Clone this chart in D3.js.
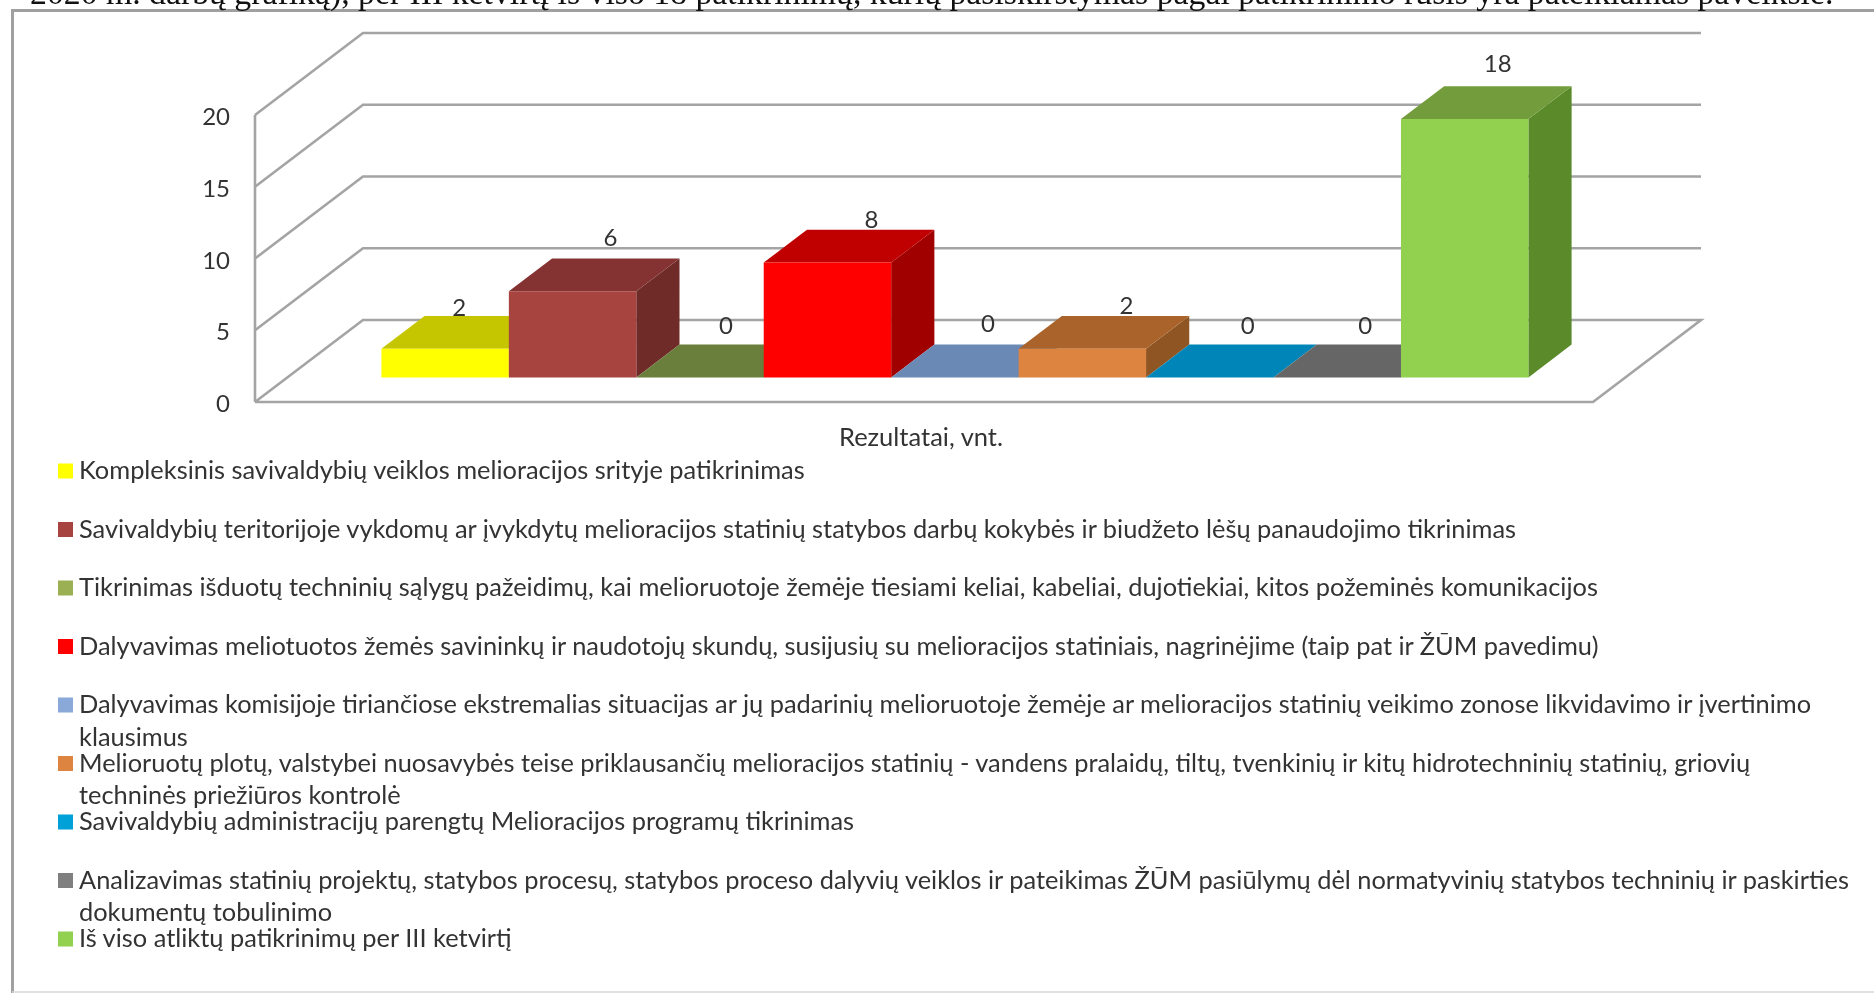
<!DOCTYPE html>
<html>
<head>
<meta charset="utf-8">
<script src="https://cdn.jsdelivr.net/npm/d3@7"></script>
<style>
  html, body { margin: 0; padding: 0; background: #fff; overflow: hidden; }
  svg { display: block; filter: blur(0.5px); }
  text { font-family: Lato, "Open Sans", sans-serif; fill: #333; }
  .heading { font-family: "Liberation Serif", serif; fill: #111; }
  .grid { stroke: #a4a4a4; stroke-width: 2.6; fill: none; }
</style>
</head>
<body>
<div class="canvas"></div>
<script>
const categories = [
  "Kompleksinis savivaldybių veiklos melioracijos srityje patikrinimas",
  "Savivaldybių teritorijoje vykdomų ar įvykdytų melioracijos statinių statybos darbų kokybės ir biudžeto lėšų panaudojimo tikrinimas",
  "Tikrinimas išduotų techninių sąlygų pažeidimų, kai melioruotoje žemėje tiesiami keliai, kabeliai, dujotiekiai, kitos požeminės komunikacijos",
  "Dalyvavimas meliotuotos žemės savininkų ir naudotojų skundų, susijusių su melioracijos statiniais, nagrinėjime (taip pat ir ŽŪM pavedimu)",
  "Dalyvavimas komisijoje tiriančiose ekstremalias situacijas ar jų padarinių melioruotoje žemėje ar melioracijos statinių veikimo zonose likvidavimo ir įvertinimo|klausimus",
  "Melioruotų plotų, valstybei nuosavybės teise priklausančių melioracijos statinių - vandens pralaidų, tiltų, tvenkinių ir kitų hidrotechninių statinių, griovių|techninės priežiūros kontrolė",
  "Savivaldybių administracijų parengtų Melioracijos programų tikrinimas",
  "Analizavimas statinių projektų, statybos procesų, statybos proceso dalyvių veiklos ir pateikimas ŽŪM pasiūlymų dėl normatyvinių statybos techninių ir paskirties|dokumentų tobulinimo",
  "Iš viso atliktų patikrinimų per III ketvirtį"
];
const values = [2, 6, 0, 8, 0, 2, 0, 0, 18];
const yTicks = [0, 5, 10, 15, 20];
const frontColors = ["#ffff00", "#a8443f", "#9bb053", "#ff0000", "#8aa9d9", "#dd8540", "#00a0d8", "#7f7f7f", "#92d050"];
const topColors = ["#c6c600", "#843232", "#6b7f3c", "#c00000", "#6a8ab5", "#aa642b", "#0085b8", "#666666", "#739c3c"];
const sideColors = ["#8f8f00", "#6e2b28", "#55682f", "#a00000", "#55719a", "#8f5624", "#006f9a", "#555555", "#5b8a2b"];
const axisTitle = "Rezultatai, vnt.";
const headingText = "2020 m. darbų grafiką), per III ketvirtį iš viso 18 patikrinimų, kurių pasiskirstymas pagal patikrinimo rūšis yra pateikiamas paveiksle.";

// hand placed labels in the original, offset from the back top edge of the bar
const labelNudge = [[14, -8], [38, -21], [26, -19], [44, -10], [33, -21], [44, -10], [38, -19], [28, -19], [33, -22]];

const width = 1874;
const height = 993;
const wall = { left: 255, right: 1593, bottom: 402, top: 115 };
const depthVec = { x: 108, y: -82 };
const barDepth = [0.3, 0.7];

const svg = d3
  .select(".canvas")
  .append("svg")
  .attr("width", width)
  .attr("height", height);

const x = d3.scaleBand().domain(d3.range(values.length)).range([349, 1496]);
const y = d3.scaleLinear().domain([0, 20]).range([wall.bottom, wall.top]);

// oblique projection, d goes 0 (front) to 1 (back wall)
const pt = (px, py, d) => [px + depthVec.x * d, py + depthVec.y * d];
const poly = (pts) => pts.map((p) => p.join(",")).join(" ");

// outer frame of the pasted picture
svg.append("path")
  .attr("d", `M12.5,${height}V10.5H${width}`)
  .attr("fill", "none")
  .attr("stroke", "#a0a0a0")
  .attr("stroke-width", 3);
svg.append("line")
  .attr("x1", 12)
  .attr("x2", width)
  .attr("y1", 992)
  .attr("y2", 992)
  .attr("stroke", "#d8d8d8")
  .attr("stroke-width", 1.5);

svg.append("text")
  .attr("class", "heading")
  .attr("x", 30)
  .attr("y", 4)
  .attr("font-size", 33.75)
  .text(headingText);

// walls and floor
const grid = svg.append("g");
grid.selectAll(".wall-line")
  .data(yTicks)
  .enter()
  .append("polyline")
  .attr("class", "grid")
  .attr("points", (d) =>
    poly([[wall.left, y(d)], pt(wall.left, y(d), 1), pt(wall.right, y(d), 1), ...(d === 0 ? [[wall.right, y(d)], [wall.left, y(d)]] : [])])
  );
grid.append("line")
  .attr("class", "grid")
  .attr("x1", wall.left)
  .attr("x2", wall.left)
  .attr("y1", y(0))
  .attr("y2", y(20))
  .attr("stroke-width", 1.5);

svg.selectAll(".tick-label")
  .data(yTicks)
  .enter()
  .append("text")
  .attr("class", "tick-label")
  .attr("x", 230)
  .attr("y", (d) => y(d) + 10)
  .attr("text-anchor", "end")
  .attr("font-size", 24)
  .text((d) => d);

// bars, painted left to right
const bars = svg.selectAll(".bar")
  .data(values)
  .enter()
  .append("g")
  .attr("class", "bar");

const front = (i, d) => {
  const x0 = x(i);
  const x1 = x0 + x.bandwidth();
  const a = barDepth[0];
  return [pt(x0, y(0), a), pt(x1, y(0), a), pt(x1, y(d), a), pt(x0, y(d), a)];
};
const topFace = (i, d) => {
  const x0 = x(i);
  const x1 = x0 + x.bandwidth();
  const [a, b] = barDepth;
  return [pt(x0, y(d), a), pt(x1, y(d), a), pt(x1, y(d), b), pt(x0, y(d), b)];
};
const side = (i, d) => {
  const x1 = x(i) + x.bandwidth();
  const [a, b] = barDepth;
  return [pt(x1, y(0), a), pt(x1, y(d), a), pt(x1, y(d), b), pt(x1, y(0), b)];
};

bars.append("polygon")
  .attr("points", (d, i) => poly(side(i, d)))
  .attr("fill", (d, i) => sideColors[i]);
bars.append("polygon")
  .attr("points", (d, i) => poly(topFace(i, d)))
  .attr("fill", (d, i) => topColors[i]);
bars.append("polygon")
  .attr("points", (d, i) => poly(front(i, d)))
  .attr("fill", (d, i) => frontColors[i]);

svg.selectAll(".value-label")
  .data(values)
  .enter()
  .append("text")
  .attr("class", "value-label")
  .attr("x", (d, i) => x(i) + x.bandwidth() / 2 + labelNudge[i][0] + depthVec.x * barDepth[0])
  .attr("y", (d, i) => pt(0, y(d), barDepth[1])[1] + labelNudge[i][1] + 8)
  .attr("text-anchor", "middle")
  .attr("font-size", 24)
  .text((d) => d);

svg.append("text")
  .attr("x", 921)
  .attr("y", 446)
  .attr("text-anchor", "middle")
  .attr("font-size", 25.5)
  .text(axisTitle);

// legend
const legendY = d3.scaleLinear().domain([0, categories.length - 1]).range([471, 939]);
const legendLine = 32.7;
const legend = svg.selectAll(".legend-item")
  .data(categories)
  .enter()
  .append("g")
  .attr("class", "legend-item")
  .attr("transform", (d, i) => `translate(0, ${legendY(i)})`);

legend.append("rect")
  .attr("x", 58)
  .attr("y", -7.5)
  .attr("width", 15)
  .attr("height", 15)
  .attr("fill", (d, i) => frontColors[i]);

legend.each(function (d) {
  d3.select(this)
    .selectAll("text")
    .data(d.split("|"))
    .enter()
    .append("text")
    .attr("x", 79)
    .attr("y", (line, j) => 8 + j * legendLine)
    .attr("font-size", 25.4)
    .text((line) => line);
});
</script>
</body>
</html>
